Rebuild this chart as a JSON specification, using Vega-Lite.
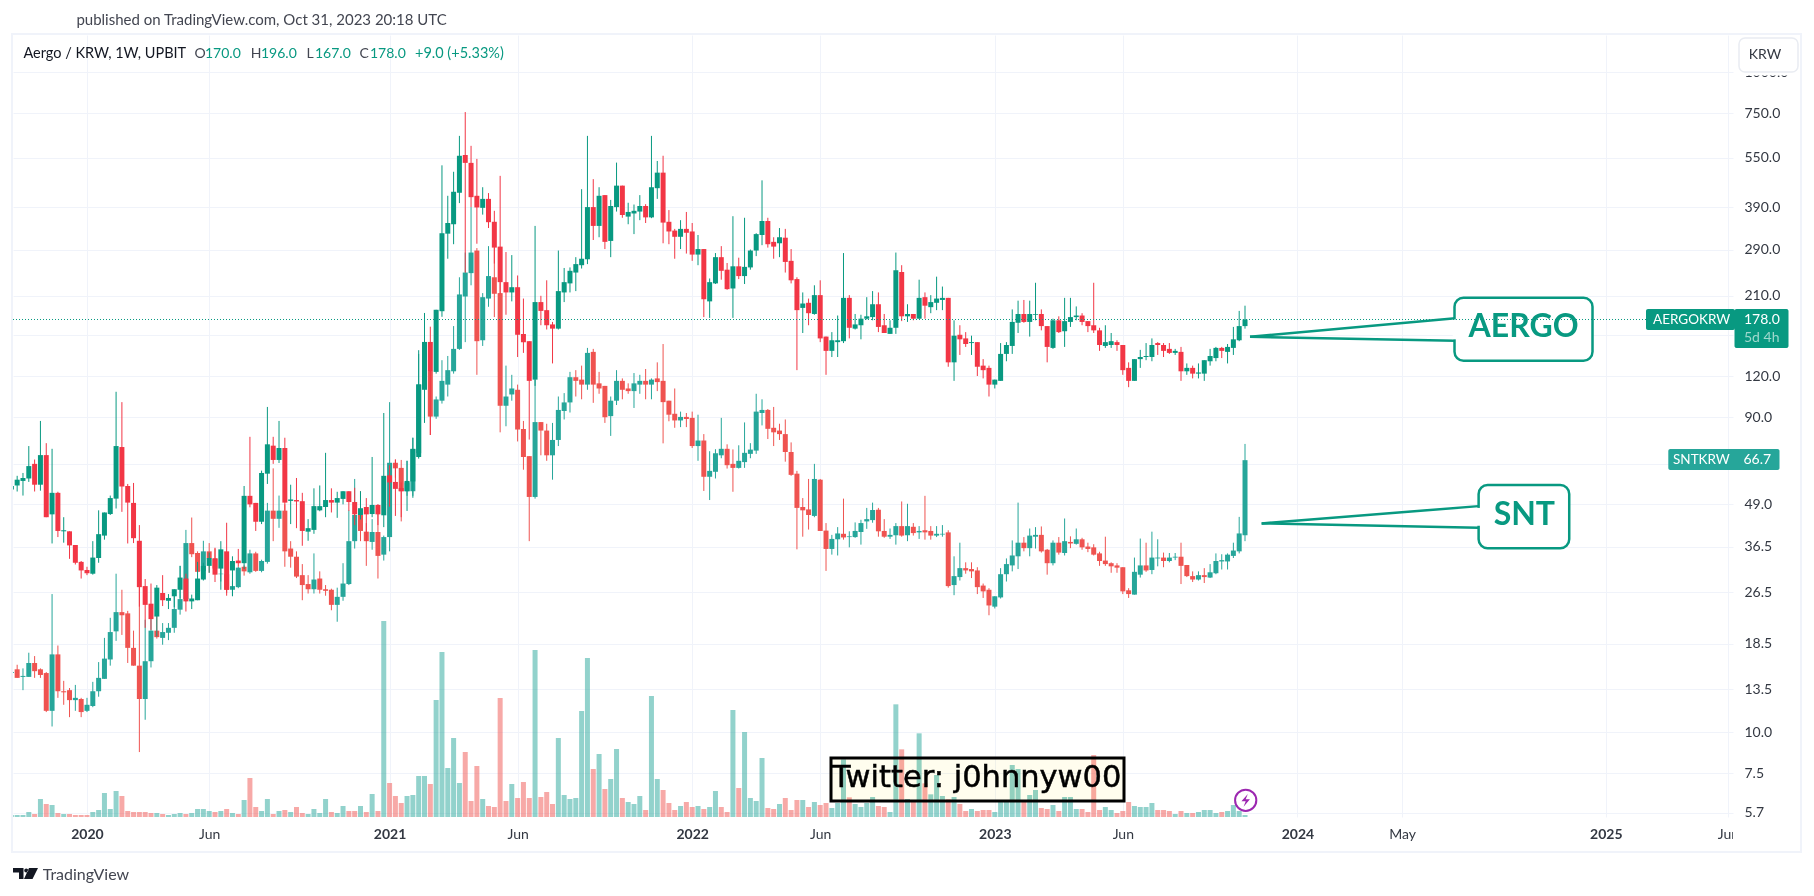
{"$schema":"https://vega.github.io/schema/vega-lite/v6.json","width":1720,"height":782,"padding":{"left":13,"top":35,"right":81,"bottom":79},"autosize":{"type":"none"},"background":"white","config":{"view":{"stroke":null},"text":{"font":"Lato"}},
"datasets":{"aergo":[
{"t":"2019-10-07","o":54.4,"h":55.7,"l":54.4,"c":55.7,"v":6},
{"t":"2019-10-14","o":55.9,"h":59.8,"l":53.6,"c":58.2,"v":6},
{"t":"2019-10-21","o":57.7,"h":61,"l":52.1,"c":58.9,"v":6},
{"t":"2019-10-28","o":58.7,"h":73.6,"l":57.3,"c":64,"v":15},
{"t":"2019-11-04","o":65,"h":67,"l":53.6,"c":56.2,"v":9},
{"t":"2019-11-11","o":56.2,"h":87.7,"l":53.9,"c":69.1,"v":54},
{"t":"2019-11-18","o":69.1,"h":75.1,"l":44.8,"c":44.8,"v":39},
{"t":"2019-11-25","o":45.7,"h":72.2,"l":37.3,"c":53.1,"v":36},
{"t":"2019-12-02","o":53.1,"h":53.5,"l":39,"c":40.7,"v":12},
{"t":"2019-12-09","o":40.6,"h":44.8,"l":37.5,"c":40.9,"v":9},
{"t":"2019-12-16","o":40.6,"h":40.6,"l":33.5,"c":36.8,"v":9},
{"t":"2019-12-23","o":36.9,"h":36.9,"l":32.2,"c":32.6,"v":6},
{"t":"2019-12-30","o":32.8,"h":33,"l":29.2,"c":30.9,"v":6},
{"t":"2020-01-06","o":31,"h":31.7,"l":29.9,"c":30.3,"v":6},
{"t":"2020-01-13","o":30.2,"h":37.9,"l":30,"c":33.8,"v":15},
{"t":"2020-01-20","o":33.7,"h":47,"l":32.6,"c":39.8,"v":21},
{"t":"2020-01-27","o":39.4,"h":46.3,"l":38.3,"c":46.3,"v":72},
{"t":"2020-02-03","o":45.8,"h":52.1,"l":45.5,"c":51.2,"v":24},
{"t":"2020-02-10","o":51,"h":107.5,"l":47.6,"c":73.6,"v":78},
{"t":"2020-02-17","o":73.1,"h":100,"l":46.5,"c":55.5,"v":63},
{"t":"2020-02-24","o":55.7,"h":56.5,"l":37.3,"c":49.6,"v":18},
{"t":"2020-03-02","o":49.5,"h":56.9,"l":37.4,"c":38.7,"v":15},
{"t":"2020-03-09","o":38,"h":42.4,"l":24,"c":27.5,"v":15},
{"t":"2020-03-16","o":27.7,"h":29.1,"l":20.7,"c":24.3,"v":15},
{"t":"2020-03-23","o":24.5,"h":28.2,"l":20.4,"c":22,"v":12},
{"t":"2020-03-30","o":22.4,"h":27.9,"l":19.5,"c":27.4,"v":12},
{"t":"2020-04-06","o":26.4,"h":29.9,"l":24.1,"c":25.1,"v":9},
{"t":"2020-04-13","o":25,"h":26.2,"l":23.6,"c":25.5,"v":6},
{"t":"2020-04-20","o":25.8,"h":27.1,"l":23.9,"c":27.1,"v":9},
{"t":"2020-04-27","o":27,"h":31.9,"l":25.4,"c":29.4,"v":12},
{"t":"2020-05-04","o":29.2,"h":30.2,"l":23.2,"c":24.9,"v":9},
{"t":"2020-05-11","o":24.9,"h":26.1,"l":23.6,"c":25.4,"v":12},
{"t":"2020-05-18","o":25.1,"h":32.8,"l":25.1,"c":29.2,"v":24},
{"t":"2020-05-25","o":29,"h":32.6,"l":28.8,"c":31.9,"v":24},
{"t":"2020-06-01","o":31.9,"h":35,"l":30.4,"c":33.7,"v":18},
{"t":"2020-06-08","o":33.6,"h":36.2,"l":28.5,"c":30,"v":15},
{"t":"2020-06-15","o":31.3,"h":37.9,"l":27,"c":35.8,"v":18},
{"t":"2020-06-22","o":35.3,"h":43.1,"l":25.9,"c":27,"v":24},
{"t":"2020-06-29","o":30.9,"h":34.1,"l":25.8,"c":33,"v":12},
{"t":"2020-07-06","o":33.1,"h":35.9,"l":31.7,"c":32.5,"v":9},
{"t":"2020-07-13","o":32.5,"h":55.7,"l":31.2,"c":52,"v":51},
{"t":"2020-07-20","o":52,"h":78.5,"l":48,"c":49,"v":117},
{"t":"2020-07-27","o":49.5,"h":49.5,"l":40.7,"c":43.4,"v":30},
{"t":"2020-08-03","o":43.4,"h":62,"l":42.7,"c":61,"v":18},
{"t":"2020-08-10","o":60.7,"h":96.7,"l":56.5,"c":74.5,"v":54},
{"t":"2020-08-17","o":73.8,"h":78.5,"l":65,"c":66.8,"v":9},
{"t":"2020-08-24","o":66.8,"h":87.7,"l":65.4,"c":72.6,"v":18},
{"t":"2020-08-31","o":72.6,"h":78,"l":46.8,"c":49.6,"v":21},
{"t":"2020-09-07","o":50.2,"h":56.2,"l":42.7,"c":50.7,"v":15},
{"t":"2020-09-14","o":50.5,"h":58.9,"l":41.5,"c":50,"v":30},
{"t":"2020-09-21","o":50.1,"h":53.1,"l":36.7,"c":40.7,"v":12},
{"t":"2020-09-28","o":40.5,"h":44.2,"l":38,"c":41.5,"v":9},
{"t":"2020-10-05","o":41,"h":54.8,"l":39.9,"c":48.4,"v":24},
{"t":"2020-10-12","o":47,"h":55.9,"l":46.7,"c":48.4,"v":12},
{"t":"2020-10-19","o":48.1,"h":70.2,"l":44.8,"c":50.5,"v":54},
{"t":"2020-10-26","o":50.5,"h":54.8,"l":46.3,"c":49.6,"v":15},
{"t":"2020-11-02","o":49.6,"h":53.5,"l":44.6,"c":51.2,"v":12},
{"t":"2020-11-09","o":50.9,"h":53.7,"l":49,"c":53.7,"v":33},
{"t":"2020-11-16","o":53.7,"h":53.7,"l":46.8,"c":49.8,"v":18},
{"t":"2020-11-23","o":49.8,"h":55,"l":42.4,"c":45.7,"v":18},
{"t":"2020-11-30","o":45.5,"h":53.7,"l":44.1,"c":47.7,"v":33},
{"t":"2020-12-07","o":48.1,"h":51.2,"l":37.9,"c":45.7,"v":15},
{"t":"2020-12-14","o":45.8,"h":68.2,"l":44.8,"c":48.8,"v":69},
{"t":"2020-12-21","o":48.8,"h":49.1,"l":42.4,"c":45.7,"v":18},
{"t":"2020-12-28","o":45.4,"h":92.7,"l":41.8,"c":59.8,"v":588},
{"t":"2021-01-04","o":60,"h":64.4,"l":48.2,"c":57.1,"v":102},
{"t":"2021-01-11","o":57.3,"h":67,"l":45.2,"c":54.6,"v":63},
{"t":"2021-01-18","o":54.9,"h":57.1,"l":44.8,"c":53.7,"v":42},
{"t":"2021-01-25","o":53.7,"h":66.4,"l":46.8,"c":57.7,"v":63},
{"t":"2021-02-01","o":57.5,"h":78,"l":51.3,"c":72.2,"v":66},
{"t":"2021-02-08","o":68.2,"h":143.7,"l":67.4,"c":113.2,"v":123},
{"t":"2021-02-15","o":109.3,"h":186.3,"l":86.5,"c":152.2,"v":123},
{"t":"2021-02-22","o":152.2,"h":169.3,"l":79.5,"c":123.5,"v":99},
{"t":"2021-03-01","o":123.5,"h":190.5,"l":122,"c":190.5,"v":351},
{"t":"2021-03-08","o":188.6,"h":522,"l":181.4,"c":325,"v":495},
{"t":"2021-03-15","o":324,"h":422,"l":272,"c":349,"v":147},
{"t":"2021-03-22","o":346,"h":499,"l":301,"c":434,"v":237},
{"t":"2021-03-29","o":431,"h":641,"l":401,"c":558,"v":102},
{"t":"2021-04-05","o":561,"h":757,"l":247,"c":531,"v":195},
{"t":"2021-04-12","o":531,"h":598,"l":390,"c":418,"v":48},
{"t":"2021-04-19","o":422,"h":546,"l":302,"c":389,"v":153},
{"t":"2021-04-26","o":388,"h":448,"l":370,"c":413,"v":54},
{"t":"2021-05-03","o":413,"h":430,"l":337,"c":351,"v":33},
{"t":"2021-05-10","o":352,"h":380,"l":263,"c":294,"v":30},
{"t":"2021-05-17","o":296,"h":485,"l":213,"c":231,"v":357},
{"t":"2021-05-24","o":231,"h":285,"l":184,"c":215,"v":48},
{"t":"2021-05-31","o":215,"h":279,"l":202,"c":223,"v":99},
{"t":"2021-06-07","o":223,"h":242,"l":137,"c":160,"v":57},
{"t":"2021-06-14","o":161,"h":206,"l":141,"c":152,"v":105},
{"t":"2021-06-21","o":153,"h":153,"l":77,"c":116,"v":57},
{"t":"2021-06-28","o":117,"h":342,"l":112,"c":201,"v":501},
{"t":"2021-07-05","o":201,"h":210,"l":171,"c":189,"v":60},
{"t":"2021-07-12","o":190,"h":234,"l":166,"c":171,"v":75},
{"t":"2021-07-19","o":172,"h":175,"l":131,"c":167,"v":39},
{"t":"2021-07-26","o":167,"h":288,"l":166,"c":217,"v":237},
{"t":"2021-08-02","o":215,"h":255,"l":201,"c":231,"v":66},
{"t":"2021-08-09","o":229,"h":256,"l":215,"c":250,"v":54},
{"t":"2021-08-16","o":247,"h":275,"l":217,"c":262,"v":57},
{"t":"2021-08-23","o":260,"h":442,"l":254,"c":272,"v":318},
{"t":"2021-08-30","o":271,"h":641,"l":262,"c":390,"v":477},
{"t":"2021-09-06","o":390,"h":474,"l":310,"c":342,"v":144},
{"t":"2021-09-13","o":342,"h":448,"l":316,"c":422,"v":189},
{"t":"2021-09-20","o":424,"h":424,"l":291,"c":306,"v":84},
{"t":"2021-09-27","o":308,"h":410,"l":275,"c":393,"v":114},
{"t":"2021-10-04","o":390,"h":532,"l":378,"c":453,"v":204},
{"t":"2021-10-11","o":453,"h":453,"l":362,"c":369,"v":57},
{"t":"2021-10-18","o":365,"h":402,"l":346,"c":377,"v":45},
{"t":"2021-10-25","o":373,"h":397,"l":323,"c":380,"v":39},
{"t":"2021-11-01","o":378,"h":424,"l":356,"c":393,"v":63},
{"t":"2021-11-08","o":393,"h":398,"l":349,"c":363,"v":21},
{"t":"2021-11-15","o":363,"h":641,"l":361,"c":448,"v":363},
{"t":"2021-11-22","o":445,"h":538,"l":413,"c":496,"v":114},
{"t":"2021-11-29","o":496,"h":558,"l":303,"c":350,"v":81},
{"t":"2021-12-06","o":352,"h":382,"l":301,"c":329,"v":42},
{"t":"2021-12-13","o":331,"h":335,"l":272,"c":317,"v":21},
{"t":"2021-12-20","o":317,"h":356,"l":291,"c":335,"v":33},
{"t":"2021-12-27","o":335,"h":377,"l":282,"c":326,"v":45},
{"t":"2022-01-03","o":329,"h":349,"l":268,"c":280,"v":30},
{"t":"2022-01-10","o":280,"h":321,"l":260,"c":291,"v":33},
{"t":"2022-01-17","o":291,"h":291,"l":181,"c":205,"v":24},
{"t":"2022-01-24","o":202,"h":237,"l":180,"c":231,"v":30},
{"t":"2022-01-31","o":229,"h":283,"l":228,"c":275,"v":78},
{"t":"2022-02-07","o":275,"h":297,"l":235,"c":250,"v":30},
{"t":"2022-02-14","o":252,"h":264,"l":219,"c":220,"v":15},
{"t":"2022-02-21","o":221,"h":366,"l":180,"c":258,"v":321},
{"t":"2022-02-28","o":258,"h":274,"l":236,"c":241,"v":87},
{"t":"2022-03-07","o":241,"h":362,"l":228,"c":257,"v":255},
{"t":"2022-03-14","o":256,"h":290,"l":252,"c":288,"v":57},
{"t":"2022-03-21","o":288,"h":325,"l":277,"c":323,"v":48},
{"t":"2022-03-28","o":321,"h":470,"l":299,"c":354,"v":177},
{"t":"2022-04-04","o":354,"h":362,"l":294,"c":301,"v":27},
{"t":"2022-04-11","o":306,"h":316,"l":272,"c":296,"v":24},
{"t":"2022-04-18","o":303,"h":337,"l":275,"c":316,"v":39},
{"t":"2022-04-25","o":315,"h":335,"l":247,"c":266,"v":57},
{"t":"2022-05-02","o":268,"h":291,"l":229,"c":234,"v":21},
{"t":"2022-05-09","o":236,"h":239,"l":125,"c":190,"v":51},
{"t":"2022-05-16","o":193,"h":215,"l":162,"c":199,"v":51},
{"t":"2022-05-23","o":200,"h":206,"l":171,"c":186,"v":30},
{"t":"2022-05-30","o":185,"h":226,"l":184,"c":211,"v":45},
{"t":"2022-06-06","o":211,"h":234,"l":152,"c":156,"v":36},
{"t":"2022-06-13","o":158,"h":158,"l":121,"c":143,"v":42},
{"t":"2022-06-20","o":143,"h":163,"l":137,"c":154,"v":27},
{"t":"2022-06-27","o":152,"h":183,"l":137,"c":154,"v":42},
{"t":"2022-07-04","o":153,"h":283,"l":151,"c":207,"v":173},
{"t":"2022-07-11","o":207,"h":211,"l":156,"c":168,"v":59},
{"t":"2022-07-18","o":167,"h":185,"l":166,"c":172,"v":39},
{"t":"2022-07-25","o":171,"h":184,"l":155,"c":179,"v":30},
{"t":"2022-08-01","o":179,"h":208,"l":178,"c":182,"v":42},
{"t":"2022-08-08","o":181,"h":217,"l":177,"c":198,"v":60},
{"t":"2022-08-15","o":198,"h":215,"l":163,"c":169,"v":33},
{"t":"2022-08-22","o":171,"h":185,"l":162,"c":162,"v":30},
{"t":"2022-08-29","o":161,"h":177,"l":161,"c":168,"v":15},
{"t":"2022-09-05","o":168,"h":284,"l":161,"c":251,"v":338},
{"t":"2022-09-12","o":248,"h":260,"l":176,"c":182,"v":203},
{"t":"2022-09-19","o":182,"h":198,"l":175,"c":185,"v":54},
{"t":"2022-09-26","o":185,"h":185,"l":177,"c":179,"v":48},
{"t":"2022-10-03","o":179,"h":235,"l":179,"c":207,"v":251},
{"t":"2022-10-10","o":208,"h":215,"l":179,"c":196,"v":101},
{"t":"2022-10-17","o":194,"h":211,"l":186,"c":201,"v":68},
{"t":"2022-10-24","o":200,"h":240,"l":190,"c":206,"v":126},
{"t":"2022-10-31","o":204,"h":224,"l":190,"c":207,"v":63},
{"t":"2022-11-07","o":207,"h":207,"l":128,"c":132,"v":53},
{"t":"2022-11-14","o":132,"h":177,"l":116,"c":159,"v":60},
{"t":"2022-11-21","o":160,"h":171,"l":139,"c":155,"v":39},
{"t":"2022-11-28","o":156,"h":163,"l":147,"c":150,"v":18},
{"t":"2022-12-05","o":151,"h":159,"l":139,"c":152,"v":24},
{"t":"2022-12-12","o":152,"h":152,"l":120,"c":128,"v":18},
{"t":"2022-12-19","o":129,"h":135,"l":118,"c":125,"v":21},
{"t":"2022-12-26","o":127,"h":129,"l":104,"c":113,"v":21},
{"t":"2023-01-02","o":113,"h":117,"l":110,"c":117,"v":15},
{"t":"2023-01-09","o":116,"h":151,"l":116,"c":140,"v":48},
{"t":"2023-01-16","o":140,"h":152,"l":133,"c":149,"v":48},
{"t":"2023-01-23","o":148,"h":191,"l":140,"c":175,"v":156},
{"t":"2023-01-30","o":174,"h":203,"l":162,"c":185,"v":144},
{"t":"2023-02-06","o":185,"h":204,"l":174,"c":175,"v":48},
{"t":"2023-02-13","o":175,"h":203,"l":158,"c":185,"v":66},
{"t":"2023-02-20","o":184,"h":230,"l":177,"c":185,"v":81},
{"t":"2023-02-27","o":185,"h":191,"l":165,"c":170,"v":27},
{"t":"2023-03-06","o":170,"h":170,"l":132,"c":147,"v":24},
{"t":"2023-03-13","o":146,"h":179,"l":145,"c":177,"v":36},
{"t":"2023-03-20","o":177,"h":182,"l":162,"c":163,"v":18},
{"t":"2023-03-27","o":164,"h":207,"l":147,"c":176,"v":60},
{"t":"2023-04-03","o":175,"h":207,"l":169,"c":181,"v":60},
{"t":"2023-04-10","o":181,"h":195,"l":177,"c":183,"v":24},
{"t":"2023-04-17","o":183,"h":186,"l":171,"c":175,"v":24},
{"t":"2023-04-24","o":176,"h":176,"l":163,"c":170,"v":15},
{"t":"2023-05-01","o":171,"h":230,"l":162,"c":165,"v":186},
{"t":"2023-05-08","o":165,"h":168,"l":143,"c":149,"v":21},
{"t":"2023-05-15","o":148,"h":171,"l":146,"c":152,"v":30},
{"t":"2023-05-22","o":149,"h":162,"l":146,"c":153,"v":21},
{"t":"2023-05-29","o":152,"h":154,"l":143,"c":149,"v":12},
{"t":"2023-06-05","o":149,"h":149,"l":121,"c":125,"v":18},
{"t":"2023-06-12","o":127,"h":132,"l":111,"c":116,"v":45},
{"t":"2023-06-19","o":116,"h":135,"l":116,"c":135,"v":33},
{"t":"2023-06-26","o":135,"h":144,"l":127,"c":137,"v":30},
{"t":"2023-07-03","o":137,"h":151,"l":134,"c":138,"v":30},
{"t":"2023-07-10","o":137,"h":156,"l":133,"c":149,"v":42},
{"t":"2023-07-17","o":151,"h":152,"l":139,"c":149,"v":21},
{"t":"2023-07-24","o":149,"h":151,"l":137,"c":143,"v":21},
{"t":"2023-07-31","o":145,"h":151,"l":140,"c":141,"v":18},
{"t":"2023-08-07","o":141,"h":145,"l":139,"c":143,"v":9},
{"t":"2023-08-14","o":142,"h":147,"l":116,"c":124,"v":18},
{"t":"2023-08-21","o":124,"h":131,"l":121,"c":127,"v":12},
{"t":"2023-08-28","o":127,"h":129,"l":118,"c":122,"v":12},
{"t":"2023-09-04","o":122,"h":131,"l":118,"c":123,"v":15},
{"t":"2023-09-11","o":122,"h":134,"l":116,"c":134,"v":21},
{"t":"2023-09-18","o":133,"h":145,"l":129,"c":138,"v":21},
{"t":"2023-09-25","o":136,"h":147,"l":133,"c":146,"v":12},
{"t":"2023-10-02","o":146,"h":147,"l":136,"c":143,"v":15},
{"t":"2023-10-09","o":142,"h":150,"l":131,"c":147,"v":18},
{"t":"2023-10-16","o":146,"h":169,"l":139,"c":155,"v":36},
{"t":"2023-10-23","o":154,"h":189,"l":153,"c":170,"v":18},
{"t":"2023-10-30","o":170,"h":196,"l":167,"c":178,"v":6}],
"snt":[
{"t":"2019-10-07","o":15.1,"h":15.2,"l":15.1,"c":15.2},
{"t":"2019-10-14","o":15.5,"h":16,"l":14.6,"c":14.6},
{"t":"2019-10-21","o":14.7,"h":15.6,"l":13.4,"c":14.8},
{"t":"2019-10-28","o":14.7,"h":17.4,"l":14.7,"c":16.2},
{"t":"2019-11-04","o":16.2,"h":17,"l":14.6,"c":15.3},
{"t":"2019-11-11","o":15.5,"h":15.6,"l":14.6,"c":14.9},
{"t":"2019-11-18","o":15.1,"h":15.2,"l":11.5,"c":11.6},
{"t":"2019-11-25","o":11.6,"h":26.2,"l":10.4,"c":17.2},
{"t":"2019-12-02","o":17.2,"h":18.3,"l":12.7,"c":13.3},
{"t":"2019-12-09","o":13.3,"h":14.3,"l":12.1,"c":13.2},
{"t":"2019-12-16","o":13.4,"h":13.6,"l":11.1,"c":12.5},
{"t":"2019-12-23","o":12.5,"h":13.9,"l":11.6,"c":12.7},
{"t":"2019-12-30","o":12.6,"h":12.7,"l":11.1,"c":11.5},
{"t":"2020-01-06","o":11.6,"h":12.7,"l":11.5,"c":12.1},
{"t":"2020-01-13","o":12,"h":14.2,"l":11.9,"c":13.3},
{"t":"2020-01-20","o":13.3,"h":16.3,"l":12.8,"c":14.6},
{"t":"2020-01-27","o":14.5,"h":19.3,"l":14.5,"c":16.7},
{"t":"2020-02-03","o":16.6,"h":22.2,"l":15.9,"c":20.1},
{"t":"2020-02-10","o":20.2,"h":30.2,"l":18.9,"c":23.1},
{"t":"2020-02-17","o":23.1,"h":27,"l":19.7,"c":22.6},
{"t":"2020-02-24","o":22.9,"h":23.3,"l":16.2,"c":18},
{"t":"2020-03-02","o":18,"h":20.3,"l":15.9,"c":15.9},
{"t":"2020-03-09","o":15.9,"h":30,"l":8.7,"c":12.6},
{"t":"2020-03-16","o":12.6,"h":21.9,"l":10.9,"c":16.4},
{"t":"2020-03-23","o":16.4,"h":22,"l":15.7,"c":20.3},
{"t":"2020-03-30","o":20.3,"h":23,"l":19.2,"c":19.4},
{"t":"2020-04-06","o":19.3,"h":21.4,"l":18.4,"c":20.1},
{"t":"2020-04-13","o":20,"h":21.4,"l":19,"c":20.7},
{"t":"2020-04-20","o":20.7,"h":25.9,"l":20,"c":23.6},
{"t":"2020-04-27","o":23.5,"h":31.9,"l":22.7,"c":25.3},
{"t":"2020-05-04","o":25.3,"h":41,"l":24.9,"c":37.4},
{"t":"2020-05-11","o":37.4,"h":44.7,"l":33.9,"c":34.6},
{"t":"2020-05-18","o":34.9,"h":35.3,"l":30.4,"c":30.6},
{"t":"2020-05-25","o":30.8,"h":38,"l":29,"c":35.3},
{"t":"2020-06-01","o":35.3,"h":37.4,"l":30.4,"c":33.6},
{"t":"2020-06-08","o":33.6,"h":36,"l":30.2,"c":31.3},
{"t":"2020-06-15","o":30.1,"h":31.9,"l":28.6,"c":30.2},
{"t":"2020-06-22","o":30.1,"h":33,"l":26.4,"c":27},
{"t":"2020-06-29","o":27,"h":28.8,"l":25.9,"c":27.7},
{"t":"2020-07-06","o":27.5,"h":31.7,"l":27.3,"c":31.5},
{"t":"2020-07-13","o":31.7,"h":32,"l":29.8,"c":30.7},
{"t":"2020-07-20","o":30.5,"h":35.7,"l":30.2,"c":34.8},
{"t":"2020-07-27","o":34.8,"h":35.2,"l":30.6,"c":30.8},
{"t":"2020-08-03","o":30.8,"h":33.3,"l":30.5,"c":33},
{"t":"2020-08-10","o":32.8,"h":49.5,"l":32.4,"c":46.9},
{"t":"2020-08-17","o":46.9,"h":63,"l":37.9,"c":44.3},
{"t":"2020-08-24","o":44.3,"h":52.1,"l":41.6,"c":46.9},
{"t":"2020-08-31","o":46.9,"h":49,"l":31.7,"c":35.3},
{"t":"2020-09-07","o":36,"h":37.9,"l":31.5,"c":34},
{"t":"2020-09-14","o":34,"h":35.3,"l":29.3,"c":29.6},
{"t":"2020-09-21","o":29.9,"h":32.3,"l":25.1,"c":27.9},
{"t":"2020-09-28","o":28.1,"h":29.9,"l":26.3,"c":27.1},
{"t":"2020-10-05","o":27.1,"h":34.8,"l":26.3,"c":29},
{"t":"2020-10-12","o":29.2,"h":30.7,"l":26.3,"c":27},
{"t":"2020-10-19","o":27.1,"h":27.9,"l":25.9,"c":26.8},
{"t":"2020-10-26","o":27,"h":27.2,"l":23.4,"c":24.3},
{"t":"2020-11-02","o":24.3,"h":27.4,"l":21.6,"c":25.7},
{"t":"2020-11-09","o":25.7,"h":32.5,"l":25,"c":28.2},
{"t":"2020-11-16","o":28.1,"h":47,"l":27.9,"c":37.9},
{"t":"2020-11-23","o":37.9,"h":58.5,"l":36,"c":45.5},
{"t":"2020-11-30","o":45.5,"h":53.7,"l":37.9,"c":40.7},
{"t":"2020-12-07","o":40.5,"h":43,"l":31.9,"c":37.9},
{"t":"2020-12-14","o":37.7,"h":44.2,"l":35.7,"c":40.4},
{"t":"2020-12-21","o":40.4,"h":48,"l":29.2,"c":34.2},
{"t":"2020-12-28","o":34.5,"h":39.4,"l":33.1,"c":39},
{"t":"2021-01-04","o":39,"h":100,"l":35.3,"c":65.5},
{"t":"2021-01-11","o":65.5,"h":67,"l":59,"c":63},
{"t":"2021-01-18","o":63.2,"h":66.8,"l":43.5,"c":53.7},
{"t":"2021-01-25","o":53.7,"h":66.4,"l":52,"c":57.1},
{"t":"2021-02-01","o":53.7,"h":78,"l":52,"c":72},
{"t":"2021-02-08","o":70,"h":140,"l":68,"c":113},
{"t":"2021-02-15","o":109,"h":135,"l":100,"c":123.5},
{"t":"2021-02-22","o":123.5,"h":135,"l":79.5,"c":90.4},
{"t":"2021-03-01","o":90.4,"h":104,"l":89,"c":101.9},
{"t":"2021-03-08","o":101,"h":134,"l":99,"c":116},
{"t":"2021-03-15","o":113,"h":138,"l":104,"c":125},
{"t":"2021-03-22","o":124,"h":170,"l":122,"c":145},
{"t":"2021-03-29","o":145,"h":239,"l":144,"c":212},
{"t":"2021-04-05","o":209,"h":284,"l":152,"c":247},
{"t":"2021-04-12","o":246,"h":390,"l":226,"c":284},
{"t":"2021-04-19","o":288,"h":293,"l":121,"c":153},
{"t":"2021-04-26","o":154,"h":214,"l":148,"c":208},
{"t":"2021-05-03","o":206,"h":297,"l":194.5,"c":241},
{"t":"2021-05-10","o":239,"h":294,"l":181,"c":213},
{"t":"2021-05-17","o":214,"h":231,"l":81,"c":97.5},
{"t":"2021-05-24","o":97.5,"h":129,"l":84.5,"c":104},
{"t":"2021-05-31","o":105.5,"h":121,"l":101,"c":110},
{"t":"2021-06-07","o":109,"h":113,"l":76,"c":82.6},
{"t":"2021-06-14","o":82.9,"h":87.7,"l":62.4,"c":68.2},
{"t":"2021-06-21","o":68.6,"h":68.6,"l":37.9,"c":51.6},
{"t":"2021-06-28","o":51.6,"h":117,"l":51,"c":87},
{"t":"2021-07-05","o":87,"h":87,"l":69,"c":82},
{"t":"2021-07-12","o":82,"h":86,"l":66.4,"c":69},
{"t":"2021-07-19","o":69,"h":86.5,"l":58.2,"c":76.8},
{"t":"2021-07-26","o":76.8,"h":104,"l":73.6,"c":94.7},
{"t":"2021-08-02","o":94,"h":106.5,"l":88.6,"c":99.8},
{"t":"2021-08-09","o":99.8,"h":123.5,"l":93,"c":119},
{"t":"2021-08-16","o":119,"h":125,"l":104,"c":116},
{"t":"2021-08-23","o":117,"h":129,"l":102,"c":113},
{"t":"2021-08-30","o":113,"h":146,"l":109,"c":141},
{"t":"2021-09-06","o":142,"h":145,"l":99.5,"c":113},
{"t":"2021-09-13","o":114,"h":123.5,"l":106,"c":110},
{"t":"2021-09-20","o":112,"h":112,"l":86.5,"c":90},
{"t":"2021-09-27","o":90.7,"h":104,"l":79,"c":101},
{"t":"2021-10-04","o":101,"h":125,"l":98,"c":116},
{"t":"2021-10-11","o":116,"h":118,"l":102,"c":109},
{"t":"2021-10-18","o":110,"h":114,"l":106,"c":108},
{"t":"2021-10-25","o":108,"h":122.5,"l":96,"c":114},
{"t":"2021-11-01","o":113,"h":121,"l":106,"c":116},
{"t":"2021-11-08","o":116,"h":126,"l":102,"c":113},
{"t":"2021-11-15","o":113,"h":118,"l":102,"c":117},
{"t":"2021-11-22","o":118,"h":132,"l":108,"c":115},
{"t":"2021-11-29","o":116,"h":150,"l":75,"c":100},
{"t":"2021-12-06","o":101,"h":101,"l":87.5,"c":91.6},
{"t":"2021-12-13","o":92.2,"h":110,"l":83.6,"c":88},
{"t":"2021-12-20","o":88,"h":93.6,"l":84,"c":90.2},
{"t":"2021-12-27","o":90.2,"h":92.7,"l":84,"c":88.9},
{"t":"2022-01-03","o":89.6,"h":93.6,"l":72.6,"c":73.6},
{"t":"2022-01-10","o":73.6,"h":91.6,"l":66.4,"c":76.5},
{"t":"2022-01-17","o":76.5,"h":80,"l":53.8,"c":59.4},
{"t":"2022-01-24","o":59.4,"h":71,"l":50.5,"c":61.9},
{"t":"2022-01-31","o":61.5,"h":72,"l":58.7,"c":70},
{"t":"2022-02-07","o":69,"h":89.6,"l":67.6,"c":72.2},
{"t":"2022-02-14","o":72.2,"h":74.5,"l":62.9,"c":64.4},
{"t":"2022-02-21","o":65,"h":71.9,"l":53.5,"c":63.2},
{"t":"2022-02-28","o":63.2,"h":74,"l":62.9,"c":66.4},
{"t":"2022-03-07","o":65.8,"h":86.8,"l":63.2,"c":70.2},
{"t":"2022-03-14","o":69.7,"h":75.1,"l":67.6,"c":71.8},
{"t":"2022-03-21","o":71.3,"h":106,"l":69.7,"c":93.6},
{"t":"2022-03-28","o":92.7,"h":102,"l":85,"c":94.7},
{"t":"2022-04-04","o":94.7,"h":95.3,"l":77.3,"c":83},
{"t":"2022-04-11","o":83.6,"h":96.7,"l":73.6,"c":81},
{"t":"2022-04-18","o":82,"h":86,"l":76.8,"c":80},
{"t":"2022-04-25","o":80,"h":88.6,"l":66,"c":70.6},
{"t":"2022-05-02","o":70.6,"h":75.5,"l":59.8,"c":60.2},
{"t":"2022-05-09","o":60.7,"h":61.9,"l":35.8,"c":47.8},
{"t":"2022-05-16","o":48.1,"h":51.2,"l":39.1,"c":47},
{"t":"2022-05-23","o":47.3,"h":58.5,"l":41.1,"c":45.5},
{"t":"2022-05-30","o":45.2,"h":65,"l":44.8,"c":58.5},
{"t":"2022-06-06","o":58.2,"h":58.5,"l":40.7,"c":40.7},
{"t":"2022-06-13","o":40.8,"h":43,"l":30.8,"c":35.9},
{"t":"2022-06-20","o":35.9,"h":39.6,"l":34.5,"c":38.5},
{"t":"2022-06-27","o":38.4,"h":41.8,"l":34.3,"c":40},
{"t":"2022-07-04","o":39.9,"h":51,"l":38.3,"c":38.9},
{"t":"2022-07-11","o":39,"h":40.6,"l":36.3,"c":39.2},
{"t":"2022-07-18","o":39,"h":43.2,"l":38.8,"c":40.7},
{"t":"2022-07-25","o":40.4,"h":44,"l":37,"c":43},
{"t":"2022-08-01","o":43.5,"h":47.8,"l":41.3,"c":44.2},
{"t":"2022-08-08","o":43.9,"h":49.6,"l":43.1,"c":47.1},
{"t":"2022-08-15","o":47.2,"h":47.8,"l":39.1,"c":40.6},
{"t":"2022-08-22","o":40.7,"h":44.2,"l":38.8,"c":39.1},
{"t":"2022-08-29","o":39.1,"h":41.4,"l":38.5,"c":39.6},
{"t":"2022-09-05","o":39.5,"h":43,"l":37,"c":42.1},
{"t":"2022-09-12","o":42.1,"h":50,"l":39.1,"c":39.4},
{"t":"2022-09-19","o":39.5,"h":49.2,"l":37.9,"c":42.1},
{"t":"2022-09-26","o":41.9,"h":43,"l":39.4,"c":40.1},
{"t":"2022-10-03","o":40.3,"h":42.1,"l":38.5,"c":40.7},
{"t":"2022-10-10","o":40.9,"h":52,"l":38.3,"c":40.3},
{"t":"2022-10-17","o":40.7,"h":42.1,"l":38.3,"c":39.4},
{"t":"2022-10-24","o":39.4,"h":42.1,"l":39,"c":39.9},
{"t":"2022-10-31","o":39.7,"h":42.4,"l":39.1,"c":39.9},
{"t":"2022-11-07","o":40.3,"h":40.9,"l":27.4,"c":27.7},
{"t":"2022-11-14","o":27.9,"h":34.1,"l":26,"c":29.7},
{"t":"2022-11-21","o":29.5,"h":37.5,"l":28.8,"c":31.4},
{"t":"2022-11-28","o":31.4,"h":32.7,"l":30.2,"c":30.9},
{"t":"2022-12-05","o":31.2,"h":32.7,"l":29.3,"c":30.7},
{"t":"2022-12-12","o":30.9,"h":31.6,"l":26.2,"c":27.5},
{"t":"2022-12-19","o":27.8,"h":28.2,"l":25.5,"c":26.7},
{"t":"2022-12-26","o":27,"h":27.3,"l":22.6,"c":24.2},
{"t":"2023-01-02","o":24,"h":25.8,"l":23.7,"c":25.8},
{"t":"2023-01-09","o":25.6,"h":31.4,"l":25.4,"c":30.1},
{"t":"2023-01-16","o":30.1,"h":33.6,"l":28.6,"c":32.3},
{"t":"2023-01-23","o":32,"h":38.1,"l":30.7,"c":34.3},
{"t":"2023-01-30","o":34.1,"h":49.6,"l":31.2,"c":37.5},
{"t":"2023-02-06","o":37.5,"h":39,"l":35.3,"c":36.1},
{"t":"2023-02-13","o":36.1,"h":41.4,"l":34.1,"c":39.4},
{"t":"2023-02-20","o":39.1,"h":41.8,"l":36,"c":39.6},
{"t":"2023-02-27","o":39.6,"h":42,"l":35,"c":35.3},
{"t":"2023-03-06","o":35.7,"h":35.9,"l":30,"c":32.5},
{"t":"2023-03-13","o":32.5,"h":38.1,"l":32,"c":37.5},
{"t":"2023-03-20","o":37.5,"h":39,"l":34.5,"c":35},
{"t":"2023-03-27","o":34.9,"h":44.4,"l":34.3,"c":37.9},
{"t":"2023-04-03","o":37.7,"h":39.2,"l":36.1,"c":37.3},
{"t":"2023-04-10","o":37.2,"h":41.4,"l":37,"c":38.4},
{"t":"2023-04-17","o":38.4,"h":38.8,"l":35.7,"c":36.3},
{"t":"2023-04-24","o":36.5,"h":37.5,"l":35.1,"c":35.9},
{"t":"2023-05-01","o":36.3,"h":37.1,"l":34.3,"c":34.5},
{"t":"2023-05-08","o":34.8,"h":35.2,"l":31.9,"c":33},
{"t":"2023-05-15","o":33.1,"h":39.1,"l":31.9,"c":32.3},
{"t":"2023-05-22","o":32.5,"h":32.7,"l":30.4,"c":31.8},
{"t":"2023-05-29","o":32,"h":32.5,"l":30.4,"c":31.5},
{"t":"2023-06-05","o":31.6,"h":31.6,"l":26.2,"c":26.7},
{"t":"2023-06-12","o":26.9,"h":27.3,"l":25.5,"c":26.2},
{"t":"2023-06-19","o":26.1,"h":33.8,"l":26.1,"c":30.6},
{"t":"2023-06-26","o":30,"h":38.6,"l":29.4,"c":32},
{"t":"2023-07-03","o":32,"h":37.5,"l":30.6,"c":30.9},
{"t":"2023-07-10","o":31,"h":40.5,"l":30.1,"c":33.8},
{"t":"2023-07-17","o":33.6,"h":38.4,"l":31.8,"c":33.8},
{"t":"2023-07-24","o":33.8,"h":35,"l":31.6,"c":33},
{"t":"2023-07-31","o":33,"h":34.9,"l":32.7,"c":33.8},
{"t":"2023-08-07","o":33.8,"h":34.9,"l":33.2,"c":34},
{"t":"2023-08-14","o":34,"h":37.5,"l":28.1,"c":31.9},
{"t":"2023-08-21","o":32.1,"h":32.1,"l":29.5,"c":29.7},
{"t":"2023-08-28","o":29.7,"h":30.7,"l":28.5,"c":29},
{"t":"2023-09-04","o":29,"h":30.7,"l":28.8,"c":29.9},
{"t":"2023-09-11","o":29.9,"h":31.4,"l":28.3,"c":29.5},
{"t":"2023-09-18","o":29.4,"h":32.3,"l":29.3,"c":30.5},
{"t":"2023-09-25","o":30.3,"h":34.8,"l":30.1,"c":33},
{"t":"2023-10-02","o":32.9,"h":34.6,"l":31.1,"c":33.2},
{"t":"2023-10-09","o":32.9,"h":34.8,"l":31.1,"c":34.5},
{"t":"2023-10-16","o":34.2,"h":37.5,"l":33.7,"c":35.5},
{"t":"2023-10-23","o":35.3,"h":44.9,"l":34.8,"c":40},
{"t":"2023-10-30","o":39.5,"h":74.7,"l":37.9,"c":66.7}]},
"data":{"values":[{"k":0}]},
"resolve":{"scale":{"y":"independent"}},
"layer":[
{"data":{"name":"aergo"},"mark":{"type":"bar","size":5,"clip":true,"opacity":0.5,"orient":"vertical"},"encoding":{
"x":{"field":"t","type":"temporal","scale":{"type":"utc","padding":0,"domain":[{"year":2019,"month":10,"date":9,"utc":true},{"year":2025,"month":6,"date":8,"utc":true}]},"axis":{"title":null,"values":[{"year":2020,"month":1,"date":6,"utc":true},{"year":2020,"month":6,"date":1,"utc":true},{"year":2021,"month":1,"date":4,"utc":true},{"year":2021,"month":6,"date":7,"utc":true},{"year":2022,"month":1,"date":3,"utc":true},{"year":2022,"month":6,"date":6,"utc":true},{"year":2023,"month":1,"date":2,"utc":true},{"year":2023,"month":6,"date":5,"utc":true},{"year":2024,"month":1,"date":1,"utc":true},{"year":2024,"month":5,"date":6,"utc":true},{"year":2025,"month":1,"date":6,"utc":true},{"year":2025,"month":6,"date":2,"utc":true}],"labelExpr":"utcmonth(datum.value)==0 ? utcFormat(datum.value,'%Y') : utcFormat(datum.value,'%b')","labelFontWeight":{"condition":{"test":"utcmonth(datum.value)==0","value":"bold"},"value":"normal"},"labelFont":"Lato","labelFontSize":14,"labelColor":"#333842","labelPadding":10,"labelOverlap":false,"labelBound":false,"labelFlush":false,"domain":false,"ticks":false,"grid":true,"gridColor":"#f0f3fa","gridWidth":1}},
"y":{"field":"v","type":"quantitative","scale":{"domain":[0,2346],"nice":false},"axis":null},
"color":{"condition":{"test":"datum.c>=datum.o","value":"#26A69A"},"value":"#EF5350"}}},
{"layer":[
{"data":{"name":"snt"},"mark":{"type":"rule","strokeWidth":1,"clip":true},"encoding":{
"x":{"field":"t","type":"temporal","scale":{"type":"utc","padding":0,"domain":[{"year":2019,"month":10,"date":9,"utc":true},{"year":2025,"month":6,"date":8,"utc":true}]},"axis":{"title":null}},
"y":{"field":"l","type":"quantitative","scale":{"type":"log","domain":[5.53,1296],"nice":false},"axis":{"orient":"right","values":[1000,750,550,390,290,210,160,120,90,65,49,36.5,26.5,18.5,13.5,10,7.5,5.7],"labelExpr":"datum.value==160||datum.value==65 ? '' : format(datum.value,'.1f')","title":null,"labelFont":"Lato","labelFontSize":14,"labelColor":"#333842","labelPadding":11,"labelOverlap":false,"labelBound":false,"labelFlush":false,"domain":false,"ticks":false,"grid":true,"gridColor":"#f0f3fa","gridWidth":1}},
"y2":{"field":"h"},
"color":{"condition":{"test":"datum.c>=datum.o","value":"#26A69A"},"value":"#EF5350"}}},
{"data":{"name":"snt"},"mark":{"type":"bar","size":5,"clip":true,"orient":"vertical"},"encoding":{
"x":{"field":"t","type":"temporal","scale":{"type":"utc","padding":0,"domain":[{"year":2019,"month":10,"date":9,"utc":true},{"year":2025,"month":6,"date":8,"utc":true}]},"axis":{"title":null}},
"y":{"field":"o","type":"quantitative","scale":{"type":"log","domain":[5.53,1296],"nice":false},"axis":{"title":null}},
"y2":{"field":"c"},
"color":{"condition":{"test":"datum.c>=datum.o","value":"#26A69A"},"value":"#EF5350"}}},
{"data":{"name":"aergo"},"mark":{"type":"rule","strokeWidth":1,"clip":true},"encoding":{
"x":{"field":"t","type":"temporal","scale":{"type":"utc","padding":0,"domain":[{"year":2019,"month":10,"date":9,"utc":true},{"year":2025,"month":6,"date":8,"utc":true}]},"axis":{"title":null}},
"y":{"field":"l","type":"quantitative","scale":{"type":"log","domain":[5.53,1296],"nice":false},"axis":{"title":null}},
"y2":{"field":"h"},
"color":{"condition":{"test":"datum.c>=datum.o","value":"#089981"},"value":"#F23645"}}},
{"data":{"name":"aergo"},"mark":{"type":"bar","size":5,"clip":true,"orient":"vertical"},"encoding":{
"x":{"field":"t","type":"temporal","scale":{"type":"utc","padding":0,"domain":[{"year":2019,"month":10,"date":9,"utc":true},{"year":2025,"month":6,"date":8,"utc":true}]},"axis":{"title":null}},
"y":{"field":"o","type":"quantitative","scale":{"type":"log","domain":[5.53,1296],"nice":false},"axis":{"title":null}},
"y2":{"field":"c"},
"color":{"condition":{"test":"datum.c>=datum.o","value":"#089981"},"value":"#F23645"}}},
{"data":{"values":[{"a":"2023-11-05","b":"2024-07-09","p":157.8,"q":179.5},{"a":"2023-11-05","b":"2024-07-09","p":157.8,"q":153.5},{"a":"2023-11-19","b":"2024-08-06","p":42.9,"q":48.4},{"a":"2023-11-19","b":"2024-08-06","p":42.9,"q":41.6}]},"mark":{"type":"rule","strokeWidth":2.5,"color":"#089981"},"encoding":{
"x":{"field":"a","type":"temporal","scale":{"type":"utc","padding":0,"domain":[{"year":2019,"month":10,"date":9,"utc":true},{"year":2025,"month":6,"date":8,"utc":true}]},"axis":{"title":null}},"x2":{"field":"b"},
"y":{"field":"p","type":"quantitative","scale":{"type":"log","domain":[5.53,1296],"nice":false},"axis":{"title":null}},"y2":{"field":"q"}}},
{"data":{"values":[{"a":"2024-07-08","b":"2024-12-21","p":207.2,"q":133.5},{"a":"2024-08-06","b":"2024-11-23","p":56.1,"q":36.05}]},"mark":{"type":"rect","fill":"white","stroke":"#089981","strokeWidth":2.5,"cornerRadius":9},"encoding":{
"x":{"field":"a","type":"temporal","scale":{"type":"utc","padding":0,"domain":[{"year":2019,"month":10,"date":9,"utc":true},{"year":2025,"month":6,"date":8,"utc":true}]},"axis":{"title":null}},"x2":{"field":"b"},
"y":{"field":"p","type":"quantitative","scale":{"type":"log","domain":[5.53,1296],"nice":false},"axis":{"title":null}},"y2":{"field":"q"}}},
{"data":{"values":[{"a":"2024-07-08","p":178,"q":155},{"a":"2024-08-06","p":47.8,"q":42.2}]},"mark":{"type":"rule","strokeWidth":3.5,"color":"white"},"encoding":{
"x":{"field":"a","type":"temporal","scale":{"type":"utc","padding":0,"domain":[{"year":2019,"month":10,"date":9,"utc":true},{"year":2025,"month":6,"date":8,"utc":true}]},"axis":{"title":null}},
"y":{"field":"p","type":"quantitative","scale":{"type":"log","domain":[5.53,1296],"nice":false},"axis":{"title":null}},"y2":{"field":"q"}}},
{"data":{"values":[{"p":178}]},"mark":{"type":"rule","strokeDash":[1,2],"strokeWidth":1,"color":"#089981"},"encoding":{
"y":{"field":"p","type":"quantitative","scale":{"type":"log","domain":[5.53,1296],"nice":false},"axis":{"title":null}}}},
{"data":{"values":[{"a":"2024-09-29","p":169.2,"s":"AERGO"},{"a":"2024-09-30","p":45.5,"s":"SNT"}]},"mark":{"type":"text","font":"Lato","fontWeight":"bold","fontSize":32,"color":"#089981","align":"center","baseline":"middle"},"encoding":{
"x":{"field":"a","type":"temporal","scale":{"type":"utc","padding":0,"domain":[{"year":2019,"month":10,"date":9,"utc":true},{"year":2025,"month":6,"date":8,"utc":true}]},"axis":{"title":null}},
"y":{"field":"p","type":"quantitative","scale":{"type":"log","domain":[5.53,1296],"nice":false},"axis":{"title":null}},"text":{"field":"s"}}},

{"mark":{"type":"rect","color":"white"},"encoding":{"x":{"value":1720},"x2":{"value":1786},"y":{"value":784},"y2":{"value":815}}},
{"mark":{"type":"rect","fill":"transparent","stroke":"#f0f3fa","strokeWidth":2},"encoding":{"x":{"value":-1},"x2":{"value":1788},"y":{"value":-1},"y2":{"value":817}}},
{"mark":{"type":"rect","color":"white"},"encoding":{"x":{"value":1725},"x2":{"value":1787},"y":{"value":3},"y2":{"value":40.5}}},
{"mark":{"type":"rect","fill":"white","stroke":"#e9ecf2","strokeWidth":1.5,"cornerRadius":6},"encoding":{"x":{"value":1726},"x2":{"value":1785},"y":{"value":3},"y2":{"value":37}}},
{"mark":{"type":"text","text":"KRW","font":"Lato","fontSize":14,"color":"#333842","align":"center","baseline":"middle"},"encoding":{"x":{"value":1752},"y":{"value":20}}},

{"mark":{"type":"rect","color":"#089981","cornerRadius":2},"encoding":{"x":{"value":1633},"x2":{"value":1722},"y":{"value":274},"y2":{"value":295}}},
{"mark":{"type":"rect","color":"#089981","cornerRadius":2},"encoding":{"x":{"value":1721.5},"x2":{"value":1775.5},"y":{"value":274},"y2":{"value":313}}},
{"mark":{"type":"text","text":"AERGOKRW","font":"Lato","fontSize":13.5,"color":"white","align":"left","baseline":"middle"},"encoding":{"x":{"value":1640},"y":{"value":285}}},
{"mark":{"type":"text","text":"178.0","font":"Lato","fontSize":14,"color":"white","align":"left","baseline":"middle"},"encoding":{"x":{"value":1731},"y":{"value":285}}},
{"mark":{"type":"text","text":"5d 4h","font":"Lato","fontSize":14,"color":"#9fd8cd","align":"left","baseline":"middle"},"encoding":{"x":{"value":1731},"y":{"value":303}}},
{"mark":{"type":"rect","color":"#26A69A","cornerRadius":2},"encoding":{"x":{"value":1655.3},"x2":{"value":1766.5},"y":{"value":414},"y2":{"value":435}}},
{"mark":{"type":"text","text":"SNTKRW","font":"Lato","fontSize":13.5,"color":"white","align":"left","baseline":"middle"},"encoding":{"x":{"value":1660},"y":{"value":425}}},
{"mark":{"type":"text","text":"66.7","font":"Lato","fontSize":14,"color":"white","align":"left","baseline":"middle"},"encoding":{"x":{"value":1730.5},"y":{"value":425}}},

{"mark":{"type":"text","text":"published on TradingView.com, Oct 31, 2023 20:18 UTC","font":"Lato","fontSize":15,"color":"#434651","align":"left","baseline":"middle"},"encoding":{"x":{"value":63.4},"y":{"value":-15}}},
{"mark":{"type":"text","text":"Aergo / KRW, 1W, UPBIT","font":"Lato","fontSize":14.5,"color":"#131722","align":"left","baseline":"middle"},"encoding":{"x":{"value":10.4},"y":{"value":19}}},
{"mark":{"type":"text","text":"O","font":"Lato","fontSize":14,"color":"#434651","align":"left","baseline":"middle"},"encoding":{"x":{"value":181.6},"y":{"value":19}}},
{"mark":{"type":"text","text":"170.0","font":"Lato","fontSize":14,"color":"#089981","align":"left","baseline":"middle"},"encoding":{"x":{"value":192},"y":{"value":19}}},
{"mark":{"type":"text","text":"H","font":"Lato","fontSize":14,"color":"#434651","align":"left","baseline":"middle"},"encoding":{"x":{"value":237.7},"y":{"value":19}}},
{"mark":{"type":"text","text":"196.0","font":"Lato","fontSize":14,"color":"#089981","align":"left","baseline":"middle"},"encoding":{"x":{"value":248},"y":{"value":19}}},
{"mark":{"type":"text","text":"L","font":"Lato","fontSize":14,"color":"#434651","align":"left","baseline":"middle"},"encoding":{"x":{"value":293.5},"y":{"value":19}}},
{"mark":{"type":"text","text":"167.0","font":"Lato","fontSize":14,"color":"#089981","align":"left","baseline":"middle"},"encoding":{"x":{"value":302},"y":{"value":19}}},
{"mark":{"type":"text","text":"C","font":"Lato","fontSize":14,"color":"#434651","align":"left","baseline":"middle"},"encoding":{"x":{"value":346.5},"y":{"value":19}}},
{"mark":{"type":"text","text":"178.0","font":"Lato","fontSize":14,"color":"#089981","align":"left","baseline":"middle"},"encoding":{"x":{"value":357},"y":{"value":19}}},
{"mark":{"type":"text","text":"+9.0 (+5.33%)","font":"Lato","fontSize":14.5,"color":"#089981","align":"left","baseline":"middle"},"encoding":{"x":{"value":402},"y":{"value":19}}},

{"mark":{"type":"rect","fill":"#fffdee","stroke":"black","strokeWidth":3,"blend":"multiply"},"encoding":{"x":{"value":818},"x2":{"value":1111},"y":{"value":723},"y2":{"value":766}}},
{"mark":{"type":"text","text":"Twitter: j0hnnyw00","font":"DejaVu Sans","fontSize":30.5,"color":"black","stroke":"black","strokeWidth":0.5,"align":"center","baseline":"middle"},"encoding":{"x":{"value":963.7},"y":{"value":743}}},
{"mark":{"type":"point","shape":"circle","size":452,"filled":false,"fill":"white","fillOpacity":1,"stroke":"#9c27b0","strokeWidth":2,"opacity":1},"encoding":{"x":{"value":1232.7},"y":{"value":765.3}}},
{"mark":{"type":"point","shape":"M0.3 -0.9L-0.6 0.15H0L-0.3 0.9L0.6 -0.15H0Z","size":200,"filled":true,"color":"#9c27b0","opacity":1},"encoding":{"x":{"value":1232.7},"y":{"value":765.3}}},
{"mark":{"type":"point","shape":"M-1 -0.44H-0.16V0.44H-0.52V-0.08H-1Z M0.28 -0.44H1L0.56 0.44H-0.12Z M-0.1 -0.24a0.16 0.16 0 1 0 0.32 0a0.16 0.16 0 1 0 -0.32 0Z","size":625,"filled":true,"color":"#131722","opacity":1},"encoding":{"x":{"value":12.5},"y":{"value":838.5}}},
{"mark":{"type":"text","text":"TradingView","font":"Lato","fontSize":16,"color":"#434651","align":"left","baseline":"middle"},"encoding":{"x":{"value":29.7},"y":{"value":840}}}
]}
]}
